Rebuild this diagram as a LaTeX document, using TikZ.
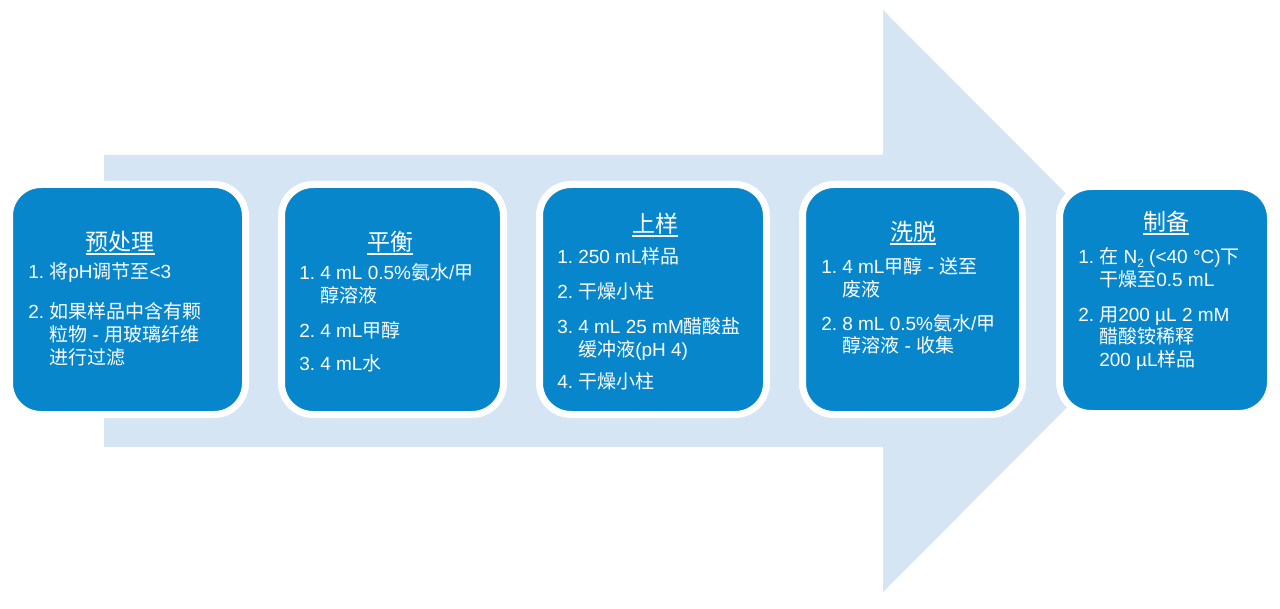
\documentclass[tikz,border=0pt]{standalone}
\usepackage{fontspec}
\setmainfont{Liberation Sans}
\newfontfamily\zhfont{Noto Sans CJK SC}
\newcommand\Z[1]{{\zhfont #1}}
\definecolor{boxblue}{RGB}{8,134,204}
\definecolor{arrowblue}{RGB}{214,229,244}
\newcommand\ttlul[1]{\setbox0\hbox{#1}\rlap{\rule[-2.8pt]{\wd0}{1pt}}\box0}
\newcommand\itemno[1]{\makebox[15.75pt][l]{#1}}
\newcommand\subtwo{\raisebox{-0.3ex}{\fontsize{9}{9}\selectfont 2}}
\tikzset{
  stepbox/.style={rounded corners=23.6pt, fill=boxblue, draw=white, line width=5.25pt, inner sep=0pt},
  ttl/.style={text=white, inner sep=0pt, anchor=base, font=\fontsize{17.25}{20}\selectfont},
  itm/.style={text=white, inner sep=0pt, anchor=base west, font=\fontsize{14.25}{17}\selectfont},
}
\begin{document}
\begin{tikzpicture}[x=0.75pt,y=-0.75pt]
\useasboundingbox[fill=white] (0,0) rectangle (1280,609);
% big arrow
\fill[arrowblue] (104,155) -- (883,155) -- (883,10) -- (1173,301) -- (883,592) -- (883,447) -- (104,447) -- cycle;
% boxes
\node[stepbox, minimum width=177pt, minimum height=172.5pt] (b1) at (127.5,299.5) {};
\node[stepbox, minimum width=166.5pt, minimum height=172.5pt] (b2) at (392.5,299.5) {};
\node[stepbox, minimum width=170.25pt, minimum height=172.5pt] (b3) at (653,299.5) {};
\node[stepbox, minimum width=165pt, minimum height=172.5pt] (b4) at (912.5,299.5) {};
\node[stepbox, minimum width=158.25pt, minimum height=170.25pt] (b5) at (1165,300) {};
% box 1
\node[ttl] (t1) at (120,251) {\ttlul{\Z{预处理}}};
\node[itm] (b1i1) at (28,279) {\begin{tabular}[t]{@{}l@{}l@{}}\itemno{1.}&\Z{将}pH\Z{调节至}<3\end{tabular}};
\node[itm] (b1i2) at (28,319) {\begin{tabular}[t]{@{}l@{}l@{}}\itemno{2.}&\Z{如果样品中含有颗}\\&\Z{粒物} - \Z{用玻璃纤维}\\&\Z{进行过滤}\end{tabular}};
% box 2
\node[ttl] (t2) at (390,251) {\ttlul{\Z{平衡}}};
\node[itm] (b2i1) at (299,280) {\begin{tabular}[t]{@{}l@{}l@{}}\itemno{1.}&4 mL 0.5\%\Z{氨水}/\Z{甲}\\&\Z{醇溶液}\end{tabular}};
\node[itm] (b2i2) at (299,337) {\begin{tabular}[t]{@{}l@{}l@{}}\itemno{2.}&4 mL\Z{甲醇}\end{tabular}};
\node[itm] (b2i3) at (299,370) {\begin{tabular}[t]{@{}l@{}l@{}}\itemno{3.}&4 mL\Z{水}\end{tabular}};
% box 3
\node[ttl] (t3) at (655,233) {\ttlul{\Z{上样}}};
\node[itm] (b3i1) at (557,264) {\begin{tabular}[t]{@{}l@{}l@{}}\itemno{1.}&250 mL\Z{样品}\end{tabular}};
\node[itm] (b3i2) at (557,299) {\begin{tabular}[t]{@{}l@{}l@{}}\itemno{2.}&\Z{干燥小柱}\end{tabular}};
\node[itm] (b3i3) at (557,334) {\begin{tabular}[t]{@{}l@{}l@{}}\itemno{3.}&4 mL 25 mM\Z{醋酸盐}\\&\Z{缓冲液}(pH 4)\end{tabular}};
\node[itm] (b3i4) at (557,388) {\begin{tabular}[t]{@{}l@{}l@{}}\itemno{4.}&\Z{干燥小柱}\end{tabular}};
% box 4
\node[ttl] (t4) at (913,241) {\ttlul{\Z{洗脱}}};
\node[itm] (b4i1) at (821,274) {\begin{tabular}[t]{@{}l@{}l@{}}\itemno{1.}&4 mL\Z{甲醇} - \Z{送至}\\&\Z{废液}\end{tabular}};
\node[itm] (b4i2) at (821,330) {\begin{tabular}[t]{@{}l@{}l@{}}\itemno{2.}&8 mL 0.5\%\Z{氨水}/\Z{甲}\\&\Z{醇溶液} - \Z{收集}\end{tabular}};
% box 5
\node[ttl] (t5) at (1166,231) {\ttlul{\Z{制备}}};
\node[itm] (b5i1) at (1078,264) {\begin{tabular}[t]{@{}l@{}l@{}}\itemno{1.}&\Z{在} N\subtwo\ (<40 °C)\Z{下}\\&\Z{干燥至}0.5 mL\end{tabular}};
\node[itm] (b5i2) at (1078,321) {\begin{tabular}[t]{@{}l@{}l@{}}\itemno{2.}&\Z{用}200 µL 2 mM\\&\Z{醋酸铵稀释}\\&200 µL\Z{样品}\end{tabular}};
\end{tikzpicture}
\end{document}
